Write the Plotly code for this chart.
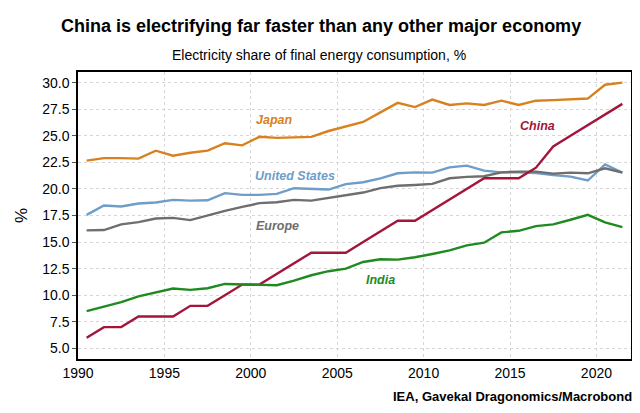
import plotly.graph_objects as go

# Years (plotted at mid-year)
years = list(range(1990, 2022))

# Electricity share of final energy consumption, %
japan = [22.66, 22.9, 22.9, 22.85, 23.6, 23.13, 23.4, 23.6, 24.3, 24.1, 24.9, 24.8,
         24.85, 24.9, 25.45, 25.9, 26.3, 27.2, 28.1, 27.7, 28.4, 27.9, 28.05, 27.9,
         28.3, 27.9, 28.3, 28.35, 28.45, 28.5, 29.8, 30.0]
united_states = [17.56, 18.44, 18.35, 18.63, 18.72, 18.97, 18.9, 18.93, 19.6, 19.44, 19.44, 19.53,
                 20.07, 20.04, 19.94, 20.45, 20.63, 21.0, 21.47, 21.56, 21.53, 22.03, 22.19, 21.72,
                 21.56, 21.56, 21.5, 21.31, 21.16, 20.79, 22.3, 21.53]
europe = [16.1, 16.13, 16.66, 16.88, 17.22, 17.28, 17.07, 17.53, 17.94, 18.31, 18.66, 18.75,
          18.97, 18.9, 19.13, 19.4, 19.66, 20.07, 20.3, 20.37, 20.47, 21.0, 21.13, 21.19,
          21.56, 21.63, 21.63, 21.44, 21.53, 21.47, 21.94, 21.53]
china = [6, 7, 7, 8, 8, 8, 9, 9, 10, 11, 11, 12,
         13, 14, 14, 14, 15, 16, 17, 17, 18, 19, 20, 21,
         21, 21, 22, 24, 25, 26, 27, 28]
india = [8.5, 8.94, 9.35, 9.9, 10.28, 10.63, 10.5, 10.66, 11.06, 11.0, 10.97, 10.94,
         11.38, 11.88, 12.26, 12.5, 13.13, 13.38, 13.35, 13.57, 13.88, 14.22, 14.69, 14.94,
         15.91, 16.06, 16.5, 16.66, 17.1, 17.56, 16.85, 16.41]

series = [
    ("Japan", japan, "#D9801F", 2000.2, 26.5),
    ("United States", united_states, "#6F9DC9", 2000.15, 21.2),
    ("Europe", europe, "#6E6E6E", 2000.2, 16.5),
    ("China", china, "#A3153A", 2015.45, 25.95),
    ("India", india, "#1F8A1F", 2006.55, 11.45),
]

x_vals = [y + 0.5 for y in years]
font_main = "Liberation Sans, Arial, sans-serif"

fig = go.Figure()
for name, vals, color, lx, ly in series:
    fig.add_trace(go.Scatter(x=x_vals, y=vals, mode='lines', name=name,
                             line=dict(color=color, width=2.4)))
    fig.add_annotation(x=lx, y=ly, text="<b><i>%s</i></b>" % name, showarrow=False,
                       xanchor='left', yanchor='middle',
                       font=dict(size=12.5, color=color, family=font_main))

fig.add_annotation(x=0.44, y=1.16, xref='paper', yref='paper', showarrow=False,
                   text="<b>China is electrifying far faster than any other major economy</b>",
                   font=dict(size=18, color='black', family=font_main),
                   xanchor='center', yanchor='middle')
fig.add_annotation(x=0.436, y=1.059, xref='paper', yref='paper', showarrow=False,
                   text="Electricity share of final energy consumption, %",
                   font=dict(size=14, color='black', family=font_main),
                   xanchor='center', yanchor='middle')
fig.add_annotation(x=1.005, y=-0.129, xref='paper', yref='paper', showarrow=False,
                   text="<b>IEA, Gavekal Dragonomics/Macrobond</b>",
                   font=dict(size=13, color='black', family=font_main),
                   xanchor='right', yanchor='middle')

fig.update_layout(
    width=640, height=413,
    margin=dict(l=64, r=17, t=64, b=62),
    plot_bgcolor='white', paper_bgcolor='white',
    showlegend=False,
    font=dict(family=font_main, size=14, color='black'),
    xaxis=dict(range=[1990, 2022], tickvals=[1990, 1995, 2000, 2005, 2010, 2015, 2020],
               showgrid=True, gridcolor='#d6d6d6', griddash='dot', gridwidth=1,
               showline=True, linecolor='black', linewidth=1.5, mirror=True,
               ticks='', zeroline=False),
    yaxis=dict(range=[4, 31], tickvals=[5, 7.5, 10, 12.5, 15, 17.5, 20, 22.5, 25, 27.5, 30],
               tickformat='.1f', title=dict(text='%', standoff=10),
               showgrid=True, gridcolor='#d6d6d6', griddash='dot', gridwidth=1,
               showline=True, linecolor='black', linewidth=1.5, mirror=True,
               ticks='outside', ticklen=4, tickcolor='#555555', zeroline=False),
)

fig.write_html("out.html")
